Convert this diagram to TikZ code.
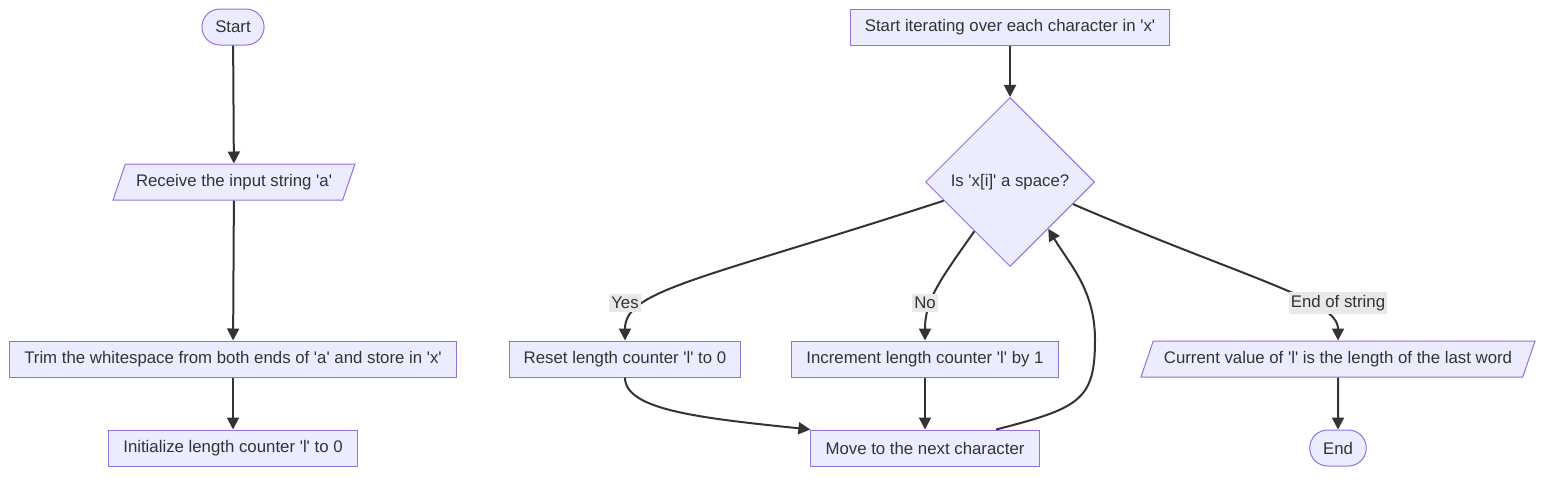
\documentclass[tikz,border=0pt]{standalone}
\usepackage{fontspec}
\setmainfont{Liberation Sans}[Ligatures=TeXOff]
\usetikzlibrary{arrows.meta}
\usetikzlibrary{shapes.geometric}
\usetikzlibrary{calc}
\definecolor{boxfill}{RGB}{236, 236, 255}
\definecolor{boxline}{RGB}{147, 112, 219}
\definecolor{ink}{RGB}{51, 51, 51}
\definecolor{tagfill}{RGB}{232, 232, 232}
\tikzset{
  proc/.style={rectangle, fill=boxfill, draw=boxline, line width=0.75pt,
    minimum height=27pt, inner xsep=11pt, text=ink},
  term/.style={proc, rounded corners=13.5pt, inner xsep=10pt},
  io/.style={trapezium, trapezium left angle=63.4, trapezium right angle=116.6,
    trapezium stretches=true, fill=boxfill, draw=boxline, line width=0.75pt,
    minimum height=27pt, inner xsep=8pt, text=ink},
  cond/.style={diamond, fill=boxfill, draw=boxline, line width=0.75pt,
    minimum width=126.75pt, minimum height=126.75pt, inner sep=0pt, text=ink},
  tag/.style={fill=tagfill, inner xsep=1.5pt, inner ysep=2.5pt, text=ink},
  flow/.style={draw=ink, line width=1.5pt, -{Triangle[length=9pt,width=9pt]}}
}

\begin{document}
\begin{tikzpicture}[x=0.75pt, y=-0.75pt, font=\fontsize{12.6}{14}\selectfont]
  \useasboundingbox (0,0) rectangle (1568,480);
  \node[term] (start) at (233,27) {Start};
  \node[io] (recv) at (234,182) {Receive the input string 'a'};
  \node[proc] (trim) at (233,359) {Trim the whitespace from both ends of 'a' and store in 'x'};
  \node[proc] (init) at (233,448) {Initialize length counter 'l' to 0};
  \node[proc] (iter) at (1010,27) {Start iterating over each character in 'x'};
  \node[cond] (dec) at (1010,182) {Is 'x[i]' a space?};
  \node[proc] (reset) at (625,359) {Reset length counter 'l' to 0};
  \node[proc] (incr) at (925,359) {Increment length counter 'l' by 1};
  \node[io] (curr) at (1338,359) {Current value of 'l' is the length of the last word};
  \node[proc] (move) at (925,448) {Move to the next character};
  \node[term] (fin) at (1338,448) {End};
  \foreach \from/\to in {start/recv, recv/trim, trim/init, iter/dec, incr/move, curr/fin}
   \draw[flow] (\from) -- (\to);
  % branches out of the test
  \draw[flow] ($(dec.west)!0.22!(dec.south)$) .. controls (700,280) and (625,290) .. (reset.north);
  \draw[flow] ($(dec.west)!0.58!(dec.south)$) .. controls (940,280) and (925,300) .. (incr.north);
  \draw[flow] ($(dec.east)!0.26!(dec.south)$) .. controls (1250,280) and (1338,300) .. (curr.north);
  \draw[flow] (reset.south) .. controls (625,410) and (700,418) .. (move.north west);
  % loop back
  \draw[flow] ($(move.north)!0.62!(move.north east)$) .. controls (1080,408) and (1095,400) .. (1095,340)
    .. controls (1095,290) and (1070,265) .. ($(dec.east)!0.55!(dec.south)$);
  \node[tag] (yes) at (625,303) {Yes};
  \node[tag] (no) at (925,303) {No};
  \node[tag] (eos) at (1338,303) {End of string};
\end{tikzpicture}
\end{document}
